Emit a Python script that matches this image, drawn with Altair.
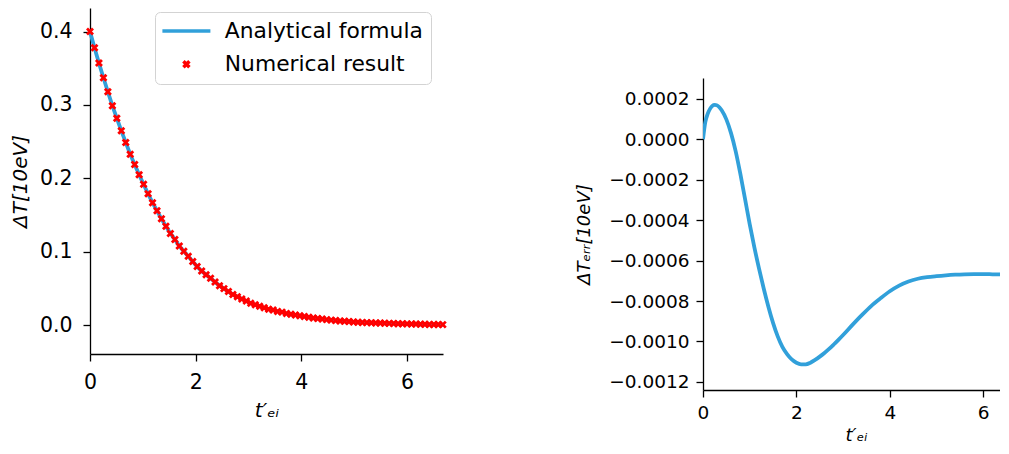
import altair as alt
import pandas as pd

# ---------------- data ----------------
# Left panel: numerical result markers (also drawn as analytical curve)
t_num = [0.000, 0.085, 0.169, 0.254, 0.338, 0.423, 0.507, 0.592, 0.676, 0.761,
         0.845, 0.930, 1.014, 1.099, 1.183, 1.268, 1.352, 1.437, 1.521, 1.606,
         1.690, 1.775, 1.859, 1.944, 2.028, 2.113, 2.197, 2.282, 2.366, 2.451,
         2.535, 2.620, 2.704, 2.789, 2.873, 2.958, 3.042, 3.127, 3.211, 3.296,
         3.380, 3.465, 3.549, 3.634, 3.718, 3.803, 3.887, 3.972, 4.056, 4.141,
         4.225, 4.310, 4.394, 4.479, 4.563, 4.648, 4.732, 4.817, 4.901, 4.986,
         5.070, 5.155, 5.239, 5.324, 5.408, 5.493, 5.577, 5.662, 5.746, 5.831,
         5.915, 6.000, 6.084, 6.169, 6.253, 6.338, 6.422, 6.507, 6.591, 6.676]
dT_num = [0.400, 0.378, 0.357, 0.337, 0.318, 0.299, 0.282, 0.265, 0.249, 0.233,
          0.219, 0.205, 0.192, 0.179, 0.167, 0.156, 0.145, 0.135, 0.125, 0.117,
          0.108, 0.101, 0.094, 0.087, 0.080, 0.074, 0.069, 0.064, 0.059, 0.054,
          0.050, 0.046, 0.042, 0.039, 0.036, 0.033, 0.030, 0.028, 0.026, 0.024,
          0.022, 0.021, 0.019, 0.018, 0.016, 0.015, 0.014, 0.013, 0.012, 0.011,
          0.0100, 0.0092, 0.0085, 0.0078, 0.0071, 0.0065, 0.0060, 0.0055, 0.0051, 0.0047,
          0.0043, 0.0040, 0.0037, 0.0035, 0.0033, 0.0031, 0.0029, 0.0027, 0.0025, 0.0023,
          0.0021, 0.0020, 0.0018, 0.0017, 0.0015, 0.0014, 0.0013, 0.0012, 0.0011, 0.0010]
t_ana = t_num
dT_ana = dT_num

# Right panel: error curve
t_err = [0.00, 0.05, 0.10, 0.15, 0.20, 0.25, 0.30, 0.35, 0.40, 0.50,
         0.60, 0.70, 0.80, 0.90, 1.00, 1.10, 1.20, 1.30, 1.40, 1.50,
         1.60, 1.70, 1.80, 1.90, 2.00, 2.10, 2.20, 2.30, 2.40, 2.50,
         2.60, 2.70, 2.80, 2.90, 3.00, 3.20, 3.40, 3.60, 3.80, 4.00,
         4.20, 4.40, 4.60, 4.80, 5.00, 5.20, 5.40, 5.60, 5.80, 6.00,
         6.20, 6.40, 6.55]
dT_err = [0.0, 0.000085, 0.000125, 0.000150, 0.000165, 0.000170, 0.000167, 0.000158, 0.000143, 0.000098,
          0.000030, -0.000060, -0.000172, -0.000295, -0.000420, -0.000535, -0.000640, -0.000738, -0.000828, -0.000908,
          -0.000975, -0.001027, -0.001063, -0.001089, -0.001105, -0.001113, -0.001113, -0.001105, -0.001091, -0.001075,
          -0.001057, -0.001037, -0.001015, -0.000992, -0.000968, -0.000918, -0.000870, -0.000825, -0.000787, -0.000752,
          -0.000724, -0.000704, -0.000690, -0.000682, -0.000677, -0.000673, -0.000670, -0.000668, -0.000667, -0.000667,
          -0.000668, -0.000669, -0.000670]

series = ["Analytical formula", "Numerical result"]
colors = ["#31a0da", "#ff0000"]
shapes = ["M-4.8,0H4.8", "M-0.6,-0.6L0.6,0.6M-0.6,0.6L0.6,-0.6"]

x_left_ticks = [0, 2, 4, 6]
y_left_ticks = [0.0, 0.1, 0.2, 0.3, 0.4]
x_right_ticks = [0, 2, 4, 6]
y_right_ticks = [-0.0012, -0.0010, -0.0008, -0.0006, -0.0004, -0.0002, 0.0000, 0.0002]

df_ana = pd.DataFrame({"t": t_ana, "dT": dT_ana, "series": series[0]})
df_num = pd.DataFrame({"t": t_num, "dT": dT_num, "series": series[1]})
df_err = pd.DataFrame({"t": t_err, "err": dT_err})

FONT = "DejaVu Sans"
XT = "t\u2032\u2091\u1d62"

xl = alt.X("t:Q", scale=alt.Scale(domain=[0, 6.68], nice=False, zero=False),
           axis=alt.Axis(values=x_left_ticks, format="d", labelFontSize=20.5, labelPadding=11,
                         labelFlush=False, titleFontSize=20, titlePadding=8, titleFontStyle="italic"),
           title=XT)
yl = alt.Y("dT:Q", scale=alt.Scale(domain=[-0.039, 0.432], nice=False, zero=False),
           axis=alt.Axis(values=y_left_ticks, format=".1f", labelFontSize=20.5, labelPadding=11,
                         titleFontSize=20, titlePadding=9, titleFontStyle="italic"),
           title="\u0394T[10eV]")

line = alt.Chart(df_ana).mark_line(strokeWidth=3.8, color=colors[0]).encode(x=xl, y=yl)

leg = alt.Legend(title=None, orient="none", legendX=65, legendY=4, padding=8, rowPadding=10.3,
                 labelFontSize=21.8, labelFont=FONT, labelColor="black", labelLimit=0,
                 strokeColor="#d3d3d3", fillColor="white", cornerRadius=5,
                 symbolOffset=12.5, labelOffset=27.5, symbolSize=100, symbolStrokeWidth=3.5)

pts = alt.Chart(df_num).mark_point(filled=False, size=100, strokeWidth=2.8, opacity=1).encode(
    x=alt.X("t:Q"), y=alt.Y("dT:Q"),
    color=alt.Color("series:N", scale=alt.Scale(domain=series, range=colors), legend=leg),
    shape=alt.Shape("series:N", scale=alt.Scale(domain=series, range=shapes), legend=leg),
)

left = alt.layer(line, pts).properties(width=353, height=346)

# invisible spacer that pushes the right panel down
spacer = alt.Chart(df_err).mark_line(opacity=0).encode(
    x=alt.X("t:Q", axis=None), y=alt.Y("err:Q", axis=None)
).properties(width=297, height=70)

right = alt.Chart(df_err).mark_line(strokeWidth=3.8, color=colors[0], interpolate="monotone",
                                    clip=True).encode(
    x=alt.X("t:Q", scale=alt.Scale(domain=[0, 6.36], nice=False, zero=False),
            axis=alt.Axis(values=x_right_ticks, format="d", labelFontSize=18.5, labelPadding=6,
                          labelFlush=False, titleFontSize=18, titlePadding=5, titleFontStyle="italic",
                          titleX=153),
            title=XT),
    y=alt.Y("err:Q", scale=alt.Scale(domain=[-0.00124, 0.0003025], nice=False, zero=False),
            axis=alt.Axis(values=y_right_ticks, format=".4f", labelFontSize=18.5, labelPadding=7,
                          titleFontSize=18, titlePadding=15, titleFontStyle="italic"),
            title="\u0394T\u2091\u1d63\u1d63[10eV]"),
).properties(width=297, height=312)

chart = alt.hconcat(left, alt.vconcat(spacer, right, spacing=0), spacing=123).properties(
    padding={"left": 2, "top": 0, "right": 0, "bottom": 0}
).configure_view(stroke=None).configure_axis(
    grid=False, domainColor="black", tickColor="black", labelColor="black", titleColor="black",
    domainWidth=1.3, tickWidth=1.3, tickSize=7, labelFont=FONT, titleFont=FONT,
    titleFontWeight="normal"
)

chart.save("out.html", embed_options={"renderer": "svg", "actions": False})
